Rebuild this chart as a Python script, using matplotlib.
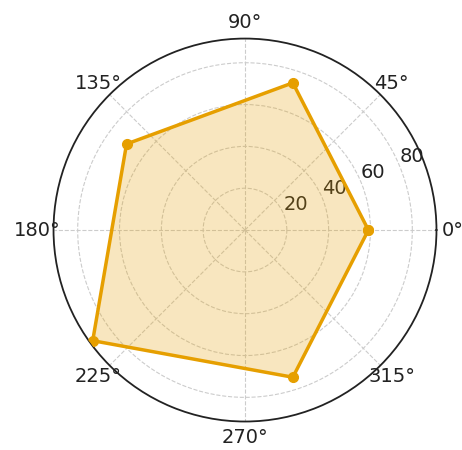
import numpy as np
import matplotlib
matplotlib.use("Agg")
import matplotlib.pyplot as plt

# angles of the five vertices (degrees) and their radial values
ANGLES_DEG = [0, 72, 144, 216, 288]
VALUES     = [59, 74, 70, 90, 74]
COLOR      = "#E69F00"

theta = np.deg2rad(ANGLES_DEG + ANGLES_DEG[:1])
r     = VALUES + VALUES[:1]

fig = plt.figure(figsize=(4.62, 4.5), dpi=100)
ax = fig.add_axes([0.1158, 0.0633, 0.829, 0.851], projection="polar")

ax.fill(theta, r, color=COLOR, alpha=0.25, zorder=2)
ax.plot(theta, r, color=COLOR, linewidth=2.5, marker="o", markersize=7, zorder=3)

ax.set_rticks([20, 40, 60, 80])
ax.tick_params(labelsize=14, colors="#222222")
ax.tick_params(axis="x", pad=1)
ax.grid(True, linestyle="--", color="#cccccc", linewidth=0.8)
ax.spines["polar"].set_color("#222222")
ax.spines["polar"].set_linewidth(1.3)

fig.savefig("out.png", dpi=100)
